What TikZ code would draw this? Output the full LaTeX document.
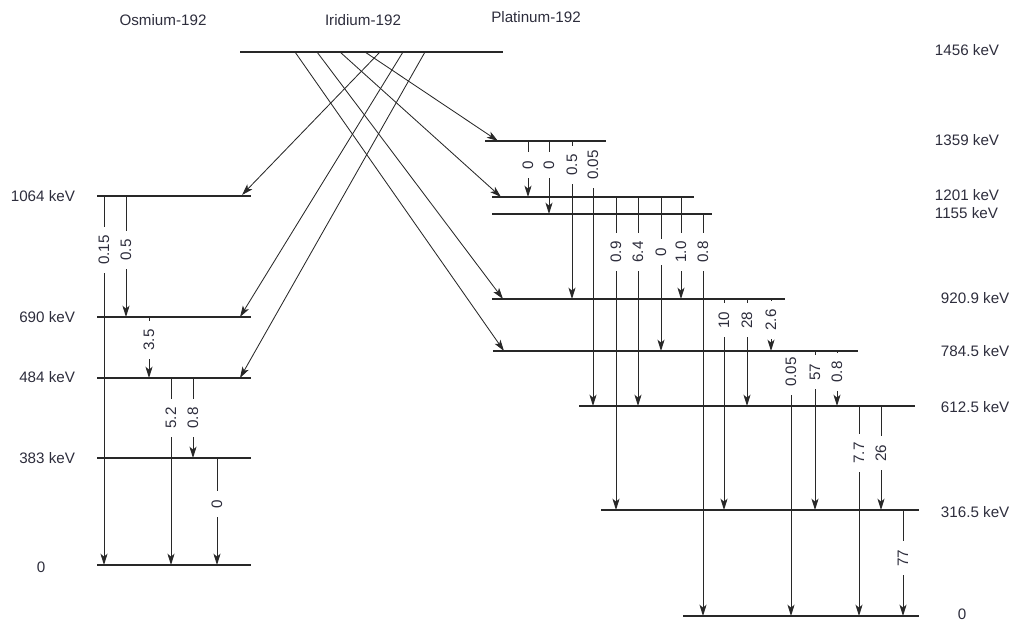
\documentclass[tikz,border=0pt]{standalone}
\usepackage{fontspec}
\setmainfont{Liberation Sans}
\usetikzlibrary{arrows.meta}
\usepackage{xcolor}
\definecolor{levelcol}{RGB}{40,40,40}
\definecolor{textcol}{RGB}{45,45,60}

\begin{document}
\begin{tikzpicture}[x=0.025cm, y=-0.025cm,
  every node/.style={font=\fontsize{10.8}{12}\selectfont, text=textcol},
  level/.style={draw=levelcol, line width=1pt},
  beta/.style={draw=levelcol, line width=0.6pt, -{Stealth[length=8pt,width=5pt,inset=2pt]}},
  gam/.style={draw=levelcol, line width=0.7pt, -{Stealth[length=8pt,width=5pt,inset=2pt]}},
  lbl/.style={rotate=90, fill=white, inner xsep=6pt, inner ysep=0.5pt}]
  \useasboundingbox (0,0) rectangle (1014,623);
  % Nuclide names
  \node (os) at (163,20) {Osmium-192};
  \node (ir) at (363,20) {Iridium-192};
  \node (pt) at (536,17) {Platinum-192};
  % Gamma transitions: x / from / to / label y / intensity
  \foreach \x/\ya/\yb/\yl/\t in {104/196/565/250/0.15, 126/196/317/250/0.5,
      149/317/378/340/3.5, 171/378/565/418/5.2, 193/378/458/418/0.8,
      217/458/565/504/0,
      528/141/197/165/0, 549/141/214/165/0, 572/141/299/165/0.5,
      593/141/406/165/0.05,
      616/197/510/252/0.9, 638/197/406/252/6.4, 661/197/351/252/0,
      681/197/299/252/1.0, 703/214/616/252/0.8,
      724/299/510/320/10, 747/299/406/320/28, 771/299/351/320/2.6,
      791/351/616/372/0.05, 815/351/510/372/57, 837/351/406/372/0.8,
      859/406/616/453/7.7, 881/406/510/453/26,
      903/510/616/558/77}
  {
    \draw[gam] (\x,\ya) -- (\x,\yb);
    \node[lbl] (g\x) at (\x,\yl) {\t};
  }
  % Iridium ground state
  \draw[level] (240,52) -- (503,52);
  % Osmium levels
  \foreach \y in {196,317,378,458,565}
    \draw[level] (97,\y) -- (251,\y);
  \node[anchor=east] (e1064) at (80,196) {1064 keV};
  \node[anchor=east] (e690) at (80,317) {690 keV};
  \node[anchor=east] (e484) at (80,377) {484 keV};
  \node[anchor=east] (e383) at (80,458) {383 keV};
  \node (eos0) at (41,567) {0};
  % Platinum levels
  \draw[level] (485,141) -- (606,141);
  \draw[level] (492,197) -- (694,197);
  \draw[level] (492,214) -- (712,214);
  \draw[level] (492,299) -- (785,299);
  \draw[level] (493,351) -- (858,351);
  \draw[level] (579,406) -- (915,406);
  \draw[level] (601,510) -- (919,510);
  \draw[level] (683,616) -- (919,616);
  \node[anchor=west] (e1456) at (930,50) {1456 keV};
  \node[anchor=west] (e1359) at (930,140) {1359 keV};
  \node[anchor=west] (e1201) at (930,195) {1201 keV};
  \node[anchor=west] (e1155) at (930,213) {1155 keV};
  \node[anchor=west] (e920) at (936,298) {920.9 keV};
  \node[anchor=west] (e784) at (936,351) {784.5 keV};
  \node[anchor=west] (e612) at (936,407) {612.5 keV};
  \node[anchor=west] (e316) at (936,512) {316.5 keV};
  \node (ept0) at (962,614) {0};
  % Beta decays from iridium
  \foreach \xs/\xe/\ye in {380/242/195, 403/240/317, 425/240/378,
      365/498/141, 340/501/197, 317/503/299, 295/504/351}
    \draw[beta] (\xs,52) -- (\xe,\ye);
\end{tikzpicture}
\end{document}
